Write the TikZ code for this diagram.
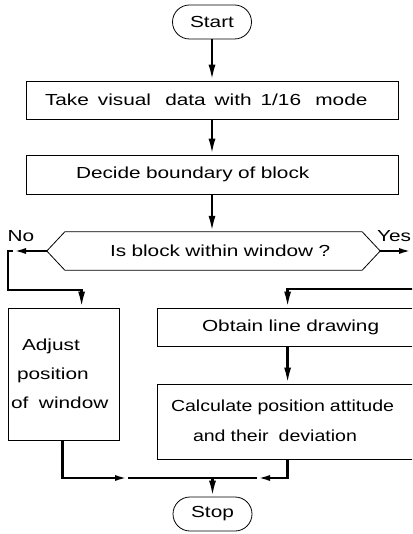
\documentclass[tikz,border=0pt]{standalone}
\usepackage{fontspec}
\setmainfont[FakeStretch=1.3]{Liberation Sans}
\usetikzlibrary{arrows.meta,calc}
\newcommand\flowfont{\fontsize{16}{29}\selectfont}
\newcommand\gapx{\hspace{3.6pt}}
\begin{document}
\begin{tikzpicture}[x=1pt,y=-1pt,
  box/.style={draw, line width=0.8pt, rectangle, inner sep=0pt, align=left, font=\flowfont},
  term/.style={draw, line width=0.8pt, rectangle, rounded corners=17pt, minimum width=79pt, minimum height=34pt, inner sep=0pt, font=\flowfont},
  lbl/.style={inner sep=0pt, font=\flowfont},
  conn/.style={line width=2.4pt},
  arr/.style={line width=2.4pt, -{Latex[length=16pt,width=7pt]}},
  marr/.style={line width=2.4pt, -{Latex[length=13pt,width=6pt]}}]
\path[use as bounding box, clip] (0,0) rectangle (412,534);

\node[term] (start) at (212,22) {Start};
\node[box, minimum width=372pt, minimum height=38pt, text width=372pt] (take) at (212,100) {\hspace*{19pt}Take\gapx{} visual\gapx\ \ data\gapx{} with\gapx{} 1/16\gapx\ \ mode};
\node[box, minimum width=372pt, minimum height=39pt, text width=372pt] (bound) at (212,174.5) {\hspace*{50pt}Decide boundary of block};
\node[lbl, minimum width=333pt, minimum height=38pt, text width=333pt, align=left] (dec) at (213.5,251) {\hspace*{63pt}Is block within window ?};
\draw[line width=0.8pt] (dec.west) -- ($(dec.north west)+(18,0)$) -- ($(dec.north east)+(-18,0)$) -- (dec.east) -- ($(dec.south east)+(-18,0)$) -- ($(dec.south west)+(18,0)$) -- cycle;
\node[lbl] (no) at (21,236) {No};
\node[lbl] (yes) at (394,236) {Yes};

\node[box, minimum width=111pt, minimum height=132pt, text width=111pt] (adjust) at (63.5,374) {\hspace*{14pt}Adjust\\\hspace*{9pt}position\\\hspace*{3pt}of\ \ window};
\node[box, minimum width=273pt, minimum height=38pt, text width=273pt] (obtain) at (293.5,327) {\hspace*{45pt}Obtain line drawing};
\node[box, minimum width=273pt, minimum height=75pt, text width=273pt] (calc) at (293.5,421.5) {\hspace*{14pt}\raisebox{3pt}{\scalebox{0.94}[1]{Calculate position attitude}}\\\hspace*{36pt}\raisebox{2pt}{\scalebox{0.94}[1]{and their\ \ deviation}}};
\node[term] (stop) at (212.5,514) {Stop};

% main spine
\draw[arr] (start.south) -- (take.north);
\draw[arr] (take.south) -- (bound.north);
\draw[arr] (bound.south) -- (bound.south |- dec.north);

% No branch
\coordinate (notip) at (13,251);
\coordinate (nocorner) at (8,251);
\coordinate (nolow) at (8,290);
\draw[marr] (dec.west) -- (notip);
\draw[arr] (notip) -- (nocorner) -- (nolow) -| ($(adjust.north west)+(74,0)$);

% Yes branch
\coordinate (yesend) at (412,251);
\coordinate (yesin) at (414,289);
\draw[marr] (dec.east) -- (yesend);
\draw[arr] (yesin) -| ($(obtain.north west)+(131,0)$);
\draw[arr] ($(obtain.south west)+(131,0)$) -- ($(calc.north west)+(131,0)$);

% merge
\coordinate (join) at (212.5,478);
\coordinate (ja) at (128,478);
\coordinate (jb) at (257,478);
\draw[marr] ($(adjust.south west)+(55,0)$) |- (ja);
\draw[conn] (ja) -- (join);
\draw[marr] ($(calc.south west)+(131,0)$) |- (jb);
\draw[conn] (jb) -- (join);
\draw[arr] (join) -- (stop.north);
\end{tikzpicture}
\end{document}
